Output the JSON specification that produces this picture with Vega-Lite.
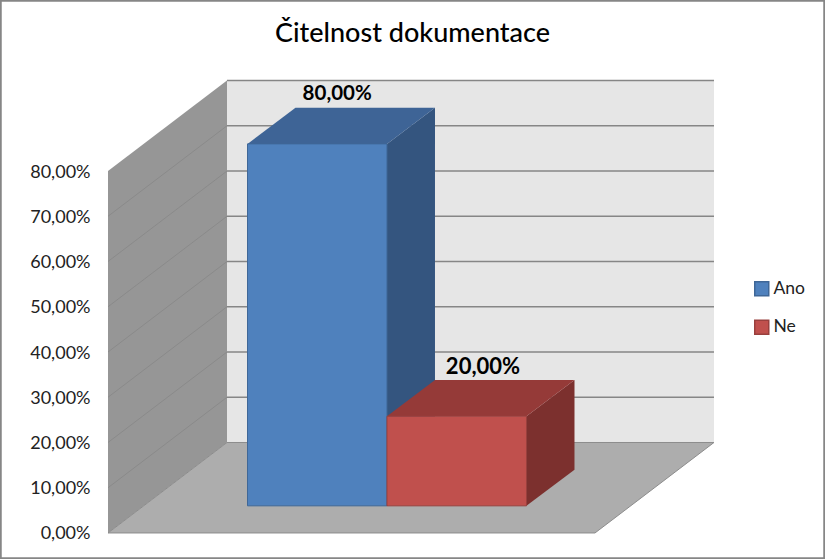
{
"$schema":"https://vega.github.io/schema/vega-lite/v6.json",
"width":825,"height":559,"autosize":"none","padding":0,"background":"white",
"view":{"stroke":"#868686","strokeWidth":3.5,"fill":"white"},
"title":{"text":"Čitelnost dokumentace","font":"Lato","fontSize":27,"fontWeight":500,"color":"#000","anchor":"middle","offset":-48},
"config":{"legend":{"labelFont":"Lato","labelFontSize":17.5,"labelColor":"#222"},"axis":{"labelFont":"Lato"}},
"encoding":{
"x":{"field":"x","type":"quantitative","title":null,"axis":null,"scale":{"domain":[-1.7742,4.1398],"nice":false,"zero":false}},
"y":{"field":"y","type":"quantitative","title":null,"scale":{"domain":[-5.75,117.8],"nice":false,"zero":false},
"axis":{"values":[0,10,20,30,40,50,60,70,80],"offset":-92,"domain":false,"ticks":false,"grid":false,"labelPadding":2,"labelFontSize":18,"labelColor":"#222","labelOffset":1,"labelExpr":"replace(format(datum.value,'.2f'),'.',',')+'%'"}}
},
"layer":[
{"data":{"values":[{"x":-1,"y":0,"y2":80},{"x":-0.147,"y":20,"y2":100}]},"mark":{"type":"area","fill":"#969696","interpolate":"linear"},"encoding":{"y2":{"field":"y2"}}},
{"data":{"values":[{"x":-0.147,"x2":3.344,"y":20,"y2":100}]},"mark":{"type":"rect","fill":"#E6E6E6"},"encoding":{"x2":{"field":"x2"},"y2":{"field":"y2"}}},
{"data":{"values":[{"x":-1,"x2":-0.147,"y":10,"y2":30},{"x":-1,"x2":-0.147,"y":20,"y2":40},{"x":-1,"x2":-0.147,"y":30,"y2":50},{"x":-1,"x2":-0.147,"y":40,"y2":60},{"x":-1,"x2":-0.147,"y":50,"y2":70},{"x":-1,"x2":-0.147,"y":60,"y2":80},{"x":-1,"x2":-0.147,"y":70,"y2":90}]},"mark":{"type":"rule","stroke":"#8A8A8A","strokeWidth":1},"encoding":{"x2":{"field":"x2"},"y2":{"field":"y2"}}},
{"data":{"values":[{"x":-0.147,"x2":3.344,"y":30},{"x":-0.147,"x2":3.344,"y":40},{"x":-0.147,"x2":3.344,"y":50},{"x":-0.147,"x2":3.344,"y":60},{"x":-0.147,"x2":3.344,"y":70},{"x":-0.147,"x2":3.344,"y":80},{"x":-0.147,"x2":3.344,"y":90},{"x":-0.147,"x2":3.344,"y":100}]},"mark":{"type":"rule","stroke":"#868686","strokeWidth":1.6},"encoding":{"x2":{"field":"x2"}}},
{"data":{"values":[{"y":0,"x":-1,"x2":2.491},{"y":20,"x":-0.147,"x2":3.344}]},"mark":{"type":"area","orient":"horizontal","fill":"#ADADAD","stroke":"#8C8C8C","strokeWidth":1,"interpolate":"linear"},"encoding":{"x2":{"field":"x2"}}},
{"data":{"values":[{"x":1,"y":6,"y2":86},{"x":1.344,"y":14,"y2":94}]},"mark":{"type":"area","fill":"#34557F","interpolate":"linear"},"encoding":{"y2":{"field":"y2"}}},
{"data":{"values":[{"y":86,"x":0,"x2":1},{"y":94,"x":0.344,"x2":1.344}]},"mark":{"type":"area","orient":"horizontal","fill":"#3E6496","interpolate":"linear"},"encoding":{"x2":{"field":"x2"}}},
{"data":{"values":[{"x":2,"y":6,"y2":25.8},{"x":2.344,"y":14,"y2":33.8}]},"mark":{"type":"area","fill":"#7C302E","interpolate":"linear"},"encoding":{"y2":{"field":"y2"}}},
{"data":{"values":[{"y":25.8,"x":1,"x2":2},{"y":33.8,"x":1.344,"x2":2.344}]},"mark":{"type":"area","orient":"horizontal","fill":"#953A38","interpolate":"linear"},"encoding":{"x2":{"field":"x2"}}},
{"data":{"values":[{"series":"Ano","x":0,"x2":1,"y":6,"y2":86},{"series":"Ne","x":1,"x2":2,"y":6,"y2":25.8}]},"mark":{"type":"rect","strokeWidth":1},"encoding":{"x2":{"field":"x2"},"y2":{"field":"y2"},
"fill":{"field":"series","type":"nominal","title":null,"scale":{"domain":["Ano","Ne"],"range":["#4F81BD","#C0504D"]},"legend":{"orient":"none","legendX":753,"legendY":280,"padding":0,"symbolType":"square","symbolSize":196,"rowPadding":17.5,"labelOffset":3,"symbolStrokeWidth":1.5}},
"stroke":{"field":"series","type":"nominal","title":null,"scale":{"domain":["Ano","Ne"],"range":["#3F6797","#99403E"]}}}},
{"data":{"values":[{"label":"80,00%","x":0.643,"y":97}]},"mark":{"type":"text","font":"Lato","fontWeight":"bold","fontSize":20.5,"color":"#000","align":"center","baseline":"middle"},"encoding":{"text":{"field":"label"}}},
{"data":{"values":[{"label":"20,00%","x":1.688,"y":36.7}]},"mark":{"type":"text","font":"Lato","fontWeight":"bold","fontSize":22,"color":"#000","align":"center","baseline":"middle"},"encoding":{"text":{"field":"label"}}}
]
}
